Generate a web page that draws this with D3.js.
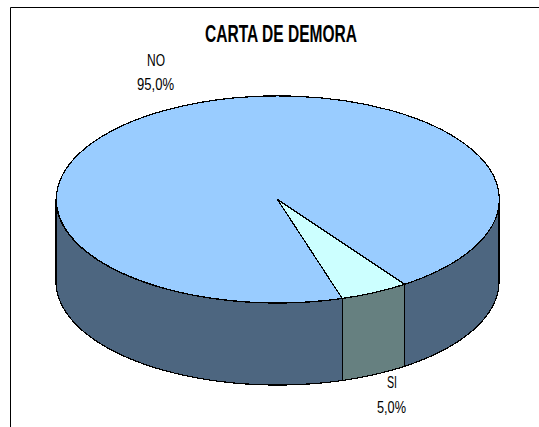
<!DOCTYPE html>
<html>
<head>
<meta charset="utf-8">
<script src="https://cdn.jsdelivr.net/npm/d3@7"></script>
<style>
  html, body { margin: 0; padding: 0; background: #fff; }
  svg { display: block; }
  text { font-family: "Liberation Sans", sans-serif; fill: #000; text-anchor: middle; }
</style>
</head>
<body>
<script>
// Chart data
const categories = ['SI', 'NO'];
const values = [5, 95];
const valueLabels = ['5,0%', '95,0%'];
const title = 'CARTA DE DEMORA';

const topColors = ['#ccffff', '#99ccff'];
const wallColors = ['#668080', '#4d6680'];

// Dimensions
const width = 539;
const height = 427;
const cx = 277.5;
const cy = 199.5;
const rx = 221.5;
const ry = 103.5;
const depth = 82;
const rotation = 145 * Math.PI / 180;

const svg = d3.select('body')
  .append('svg')
  .attr('width', width)
  .attr('height', height);

// Frame, only left and top sides are inside the picture
svg.append('path')
  .attr('d', `M10.5,${height}V7.5H${width}`)
  .attr('fill', 'none')
  .attr('stroke', '#000')
  .attr('stroke-width', 1);

const pie = d3.pie()
  .sort(null)
  .startAngle(rotation)
  .endAngle(rotation + 2 * Math.PI);

const slices = pie(values);

// Unit circle to screen, squashed for the tilt
const xScale = d3.scaleLinear().domain([-1, 1]).range([cx - rx, cx + rx]);
const yScale = d3.scaleLinear().domain([-1, 1]).range([cy - ry, cy + ry]);

const arcPoint = (a, dy) => [xScale(Math.sin(a)), yScale(-Math.cos(a)) + dy];

// Front part of the wall for one slice, the part between 90 and 270 degrees
function wallPath(d) {
  const parts = [];
  [0, 2 * Math.PI].forEach(shift => {
    const a0 = Math.max(d.startAngle - shift, Math.PI / 2);
    const a1 = Math.min(d.endAngle - shift, 3 * Math.PI / 2);
    if (a1 <= a0) return;
    const angles = d3.range(a0, a1, 0.01).concat([a1]);
    const top = angles.map(a => arcPoint(a, 0));
    const bottom = angles.slice().reverse().map(a => arcPoint(a, depth));
    parts.push(d3.line()(top.concat(bottom)) + 'Z');
  });
  return parts.join('');
}

// Walls
svg.selectAll('.wall')
  .data(slices)
  .enter()
  .append('path')
  .attr('class', 'wall')
  .attr('d', wallPath)
  .attr('fill', (d, i) => wallColors[i])
  .attr('stroke', '#000')
  .attr('stroke-width', 1.2)
  .attr('stroke-linejoin', 'round')
  .attr('shape-rendering', 'crispEdges');

// Top of the pie
const arc = d3.arc().innerRadius(0).outerRadius(1);

svg.selectAll('.slice')
  .data(slices)
  .enter()
  .append('path')
  .attr('class', 'slice')
  .attr('d', arc)
  .attr('transform', `translate(${cx},${cy}) scale(${rx},${ry})`)
  .attr('fill', (d, i) => topColors[i])
  .attr('stroke', '#000')
  .attr('stroke-width', 1.2)
  .attr('vector-effect', 'non-scaling-stroke')
  .attr('shape-rendering', 'crispEdges');

// Title
svg.append('text')
  .attr('x', 281)
  .attr('y', 41.5)
  .attr('font-size', 23)
  .attr('font-weight', 'bold')
  .attr('textLength', 152)
  .attr('lengthAdjust', 'spacingAndGlyphs')
  .text(title);

// Data labels, squeezed to the narrow look of the original
const labelBoxes = [
  { x: 392, nameY: 388, nameW: 10, valueX: 391.5, valueY: 413, valueW: 29 },
  { x: 156, nameY: 66, nameW: 18, valueX: 155.5, valueY: 90, valueW: 37 }
];

categories.forEach((c, i) => {
  const b = labelBoxes[i];
  svg.append('text')
    .attr('x', b.x)
    .attr('y', b.nameY)
    .attr('font-size', 17)
    .attr('textLength', b.nameW)
    .attr('lengthAdjust', 'spacingAndGlyphs')
    .text(c);
  svg.append('text')
    .attr('x', b.valueX)
    .attr('y', b.valueY)
    .attr('font-size', 17)
    .attr('textLength', b.valueW)
    .attr('lengthAdjust', 'spacingAndGlyphs')
    .text(valueLabels[i]);
});
</script>
</body>
</html>
